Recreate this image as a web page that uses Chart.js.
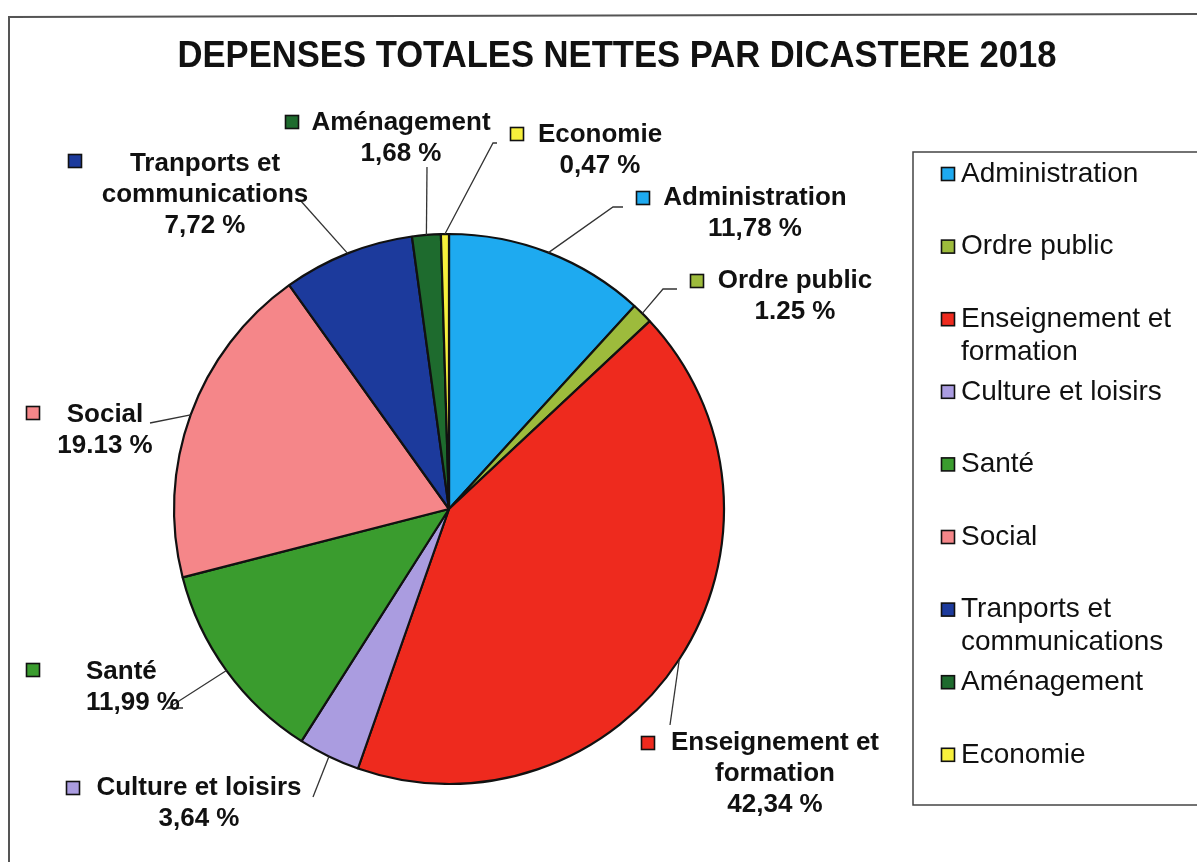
<!DOCTYPE html>
<html>
<head>
<meta charset="utf-8">
<script src="https://cdn.jsdelivr.net/npm/chart.js@4.4.1/dist/chart.umd.min.js"></script>
<style>
html,body{margin:0;padding:0;background:#fff;}
canvas{display:block;}
</style>
</head>
<body>
<canvas id="c" width="1197" height="862"></canvas>
<script>
// ---- data ----
const title = 'DEPENSES TOTALES NETTES PAR DICASTERE 2018';
const categories = ['Administration','Ordre public','Enseignement et formation','Culture et loisirs','Santé','Social','Tranports et communications','Aménagement','Economie'];
const values = [11.78, 1.25, 42.34, 3.64, 11.99, 19.13, 7.72, 1.68, 0.47];
const valueLabels = ['11,78 %','1.25 %','42,34 %','3,64 %','11,99 %','19.13 %','7,72 %','1,68 %','0,47 %'];
const legendLines = [['Administration'],['Ordre public'],['Enseignement et','formation'],['Culture et loisirs'],['Santé'],['Social'],['Tranports et','communications'],['Aménagement'],['Economie']];
const labelNameLines = [['Administration'],['Ordre public'],['Enseignement et','formation'],['Culture et loisirs'],['Santé'],['Social'],['Tranports et','communications'],['Aménagement'],['Economie']];
const colors = ['#1eaaf0','#9dbb3c','#ee2a1e','#aa9ce0','#3a9c2e','#f58689','#1c3a9c','#1e6b2e','#f7f03c'];

// ---- layout of data labels (text placement only) ----
const labelLayout = [
  {x:755, y:198, key:[643,198], align:'center', lead:[[623,207],[613,207]]},
  {x:795, y:281, key:[697,281], align:'center', lead:[[677,289],[663,289]]},
  {x:775, y:743, key:[648,743], align:'center', lead:[[670,725]]},
  {x:199, y:788, key:[73,788],  align:'center', lead:[[313,797]]},
  {x:86,  y:672, key:[33,670],  align:'left',   lead:[[183,708],[168,708]]},
  {x:105, y:415, key:[33,413],  align:'center', lead:[[150,423]]},
  {x:205, y:164, key:[75,161],  align:'center', lead:[[300,200]]},
  {x:401, y:123, key:[292,122], align:'center', lead:[[427,167]]},
  {x:600, y:135, key:[517,134], align:'center', lead:[[497,143],[493,143]]}
];

const FONT = '"Liberation Sans", Arial, sans-serif';

function drawKey(ctx, cx, cy, color, s){
  ctx.fillStyle = color;
  ctx.fillRect(cx - s/2, cy - s/2, s, s);
  ctx.strokeStyle = '#111';
  ctx.lineWidth = 1.6;
  ctx.strokeRect(cx - s/2, cy - s/2, s, s);
}

const decor = {
  id: 'decor',
  afterDraw(chart){
    const ctx = chart.ctx;
    ctx.save();
    // outer frame
    ctx.strokeStyle = '#555';
    ctx.lineWidth = 2;
    ctx.beginPath();
    ctx.moveTo(9, 862); ctx.lineTo(9, 17); ctx.lineTo(1197, 14);
    ctx.stroke();

    // title
    ctx.fillStyle = '#111';
    ctx.font = 'bold 37px ' + FONT;
    ctx.textBaseline = 'middle';
    ctx.textAlign = 'center';
    const tw = ctx.measureText(title).width;
    const sx = 879 / tw;
    ctx.save();
    ctx.translate(617, 57);
    ctx.scale(sx, 1);
    ctx.fillText(title, 0, 0);
    ctx.restore();

    // legend box
    ctx.strokeStyle = '#444';
    ctx.lineWidth = 1.5;
    ctx.strokeRect(913, 152, 320, 653);
    ctx.font = '28px ' + FONT;
    ctx.textAlign = 'left';
    const meta = chart.getDatasetMeta(0);
    categories.forEach((c, i) => {
      const y = 174 + i * 72.6;
      drawKey(ctx, 948, y, colors[i], 13);
      ctx.fillStyle = '#111';
      legendLines[i].forEach((ln, j) => ctx.fillText(ln, 961, y + j * 33));
    });

    // data labels with leader lines
    const arcs = meta.data;
    labelLayout.forEach((L, i) => {
      const a = arcs[i];
      const p = a.getProps(['x','y','startAngle','endAngle','outerRadius'], true);
      const mid = (p.startAngle + p.endAngle) / 2;
      const ax = p.x + Math.cos(mid) * p.outerRadius;
      const ay = p.y + Math.sin(mid) * p.outerRadius;
      ctx.strokeStyle = '#333';
      ctx.lineWidth = 1.3;
      ctx.beginPath();
      ctx.moveTo(L.lead[0][0], L.lead[0][1]);
      for (let k = 1; k < L.lead.length; k++) ctx.lineTo(L.lead[k][0], L.lead[k][1]);
      ctx.lineTo(ax, ay);
      ctx.stroke();

      drawKey(ctx, L.key[0], L.key[1], colors[i], 13);
      ctx.fillStyle = '#111';
      ctx.font = 'bold 26px ' + FONT;
      ctx.textAlign = L.align;
      const lines = labelNameLines[i].concat([valueLabels[i]]);
      lines.forEach((ln, j) => ctx.fillText(ln, L.x, L.y + j * 31));
    });
    ctx.restore();
  }
};

new Chart(document.getElementById('c'), {
  type: 'pie',
  data: {
    labels: categories,
    datasets: [{
      data: values,
      backgroundColor: colors,
      borderColor: '#111',
      borderWidth: 2.2,
      hoverOffset: 0,
      radius: 275
    }]
  },
  options: {
    responsive: false,
    animation: false,
    devicePixelRatio: 1,
    layout: { padding: { left: 20, right: 319, top: 160, bottom: 4 } },
    plugins: { legend: { display: false }, tooltip: { enabled: false }, title: { display: false } }
  },
  plugins: [decor]
});
</script>
</body>
</html>
